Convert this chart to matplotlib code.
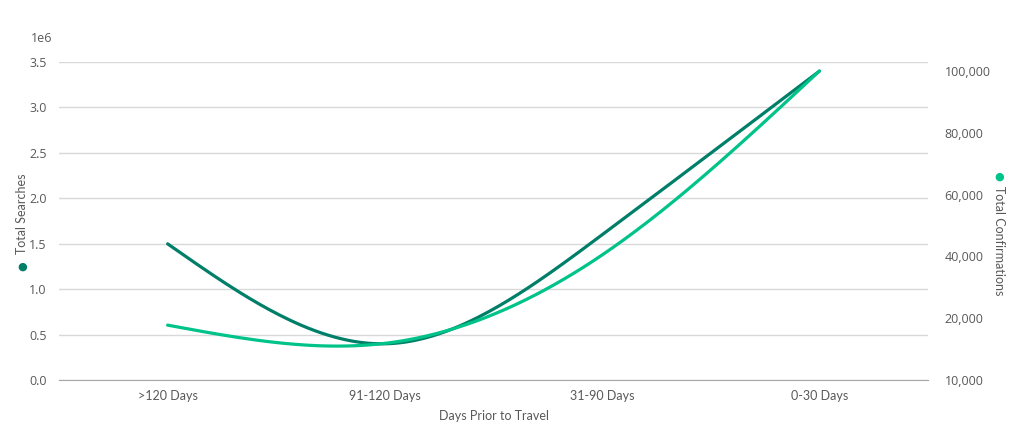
import numpy as np
import matplotlib
matplotlib.use('Agg')
import matplotlib.pyplot as plt
from matplotlib.ticker import FixedLocator, FixedFormatter

# Data
categories = ['>120 Days', '91-120 Days', '31-90 Days', '0-30 Days']
searches = [1.50e6, 0.40e6, 1.60e6, 3.40e6]
confirmations = [17800, 11900, 40500, 100000]
right_ticks = [0, 20000, 40000, 60000, 80000, 100000]
right_labels = ['10,000', '20,000', '40,000', '60,000', '80,000', '100,000']

dark = '#007f68'
light = '#00c389'
text_col = '#595959'
grid_col = '#d9d9d9'
narrow = ['Lato', 'DejaVu Sans']

plt.rcParams['font.family'] = ['Open Sans', 'DejaVu Sans']


def natural_spline(x, y, n=200):
    # smooth curve through the points (natural cubic spline)
    x = np.asarray(x, float)
    y = np.asarray(y, float)
    k = len(x)
    h = np.diff(x)
    A = np.zeros((k, k))
    b = np.zeros(k)
    A[0, 0] = A[-1, -1] = 1
    for i in range(1, k - 1):
        A[i, i - 1] = h[i - 1]
        A[i, i] = 2 * (h[i - 1] + h[i])
        A[i, i + 1] = h[i]
        b[i] = 6 * ((y[i + 1] - y[i]) / h[i] - (y[i] - y[i - 1]) / h[i - 1])
    M = np.linalg.solve(A, b)
    xs = np.linspace(x[0], x[-1], n)
    idx = np.clip(np.searchsorted(x, xs) - 1, 0, k - 2)
    x0, x1 = x[idx], x[idx + 1]
    hh = x1 - x0
    t0, t1 = x1 - xs, xs - x0
    ys = (M[idx] * t0**3 + M[idx + 1] * t1**3) / (6 * hh) \
        + (y[idx] / hh - M[idx] * hh / 6) * t0 \
        + (y[idx + 1] / hh - M[idx + 1] * hh / 6) * t1
    return xs, ys


x = np.arange(len(categories))

fig = plt.figure(figsize=(10.24, 4.4), dpi=100)
ax = fig.add_axes([0.0576, 0.136, 0.8487, 0.723])
ax2 = ax.twinx()

xs, ys = natural_spline(x, searches)
ax.plot(xs, ys, color=dark, lw=2.3, solid_capstyle='round')
xs, ys = natural_spline(x, confirmations)
ax2.plot(xs, ys, color=light, lw=2.3, solid_capstyle='round')

ax.set_xlim(-0.5, len(categories) - 0.5)
ax.set_ylim(0, 3.5e6)
ax.set_yticks(np.arange(0, 3.6e6, 0.5e6))
ax.set_yticklabels(['%.1f' % (v / 1e6) for v in np.arange(0, 3.6e6, 0.5e6)])
ax2.set_ylim(0, 102900)
ax2.yaxis.set_major_locator(FixedLocator(right_ticks))
ax2.yaxis.set_major_formatter(FixedFormatter(right_labels))

ax.set_xticks(x)
ax.set_xticklabels(categories, family=narrow, fontsize=9)
ax.grid(axis='y', color=grid_col, lw=1)
ax.set_axisbelow(True)

for a in (ax, ax2):
    for s in a.spines.values():
        s.set_visible(False)
    a.tick_params(length=0, colors=text_col)
    a.tick_params(axis='y', labelsize=9)
ax.spines['bottom'].set_visible(True)
ax.spines['bottom'].set_color('#a6a6a6')
ax.tick_params(axis='y', pad=9)
ax.tick_params(axis='x', pad=7)
ax2.tick_params(axis='y', pad=12)

ax.set_xlabel('Days Prior to Travel', fontsize=9, color=text_col,
              labelpad=6, family=narrow)

# multiplier shown above the left axis
fig.text(0.041, 1 - 38 / 440, '1e6', fontsize=9, color=text_col,
         ha='center', va='center')

# axis titles with coloured dots
fig.text(0.0215, 1 - 254 / 440, 'Total Searches', rotation=90, fontsize=9,
         color=text_col, ha='center', va='bottom', family=narrow)
fig.text(0.0215, 1 - 267 / 440, '\u25cf', fontsize=8, color=dark,
         ha='center', va='center', family='DejaVu Sans')
fig.text(0.9755, 1 - 186 / 440, 'Total Confirmations', rotation=270, fontsize=9,
         color=text_col, ha='center', va='top', family=narrow)
fig.text(0.9755, 1 - 177 / 440, '\u25cf', fontsize=8, color=light,
         ha='center', va='center', family='DejaVu Sans')

plt.savefig('out.png', dpi=100)
